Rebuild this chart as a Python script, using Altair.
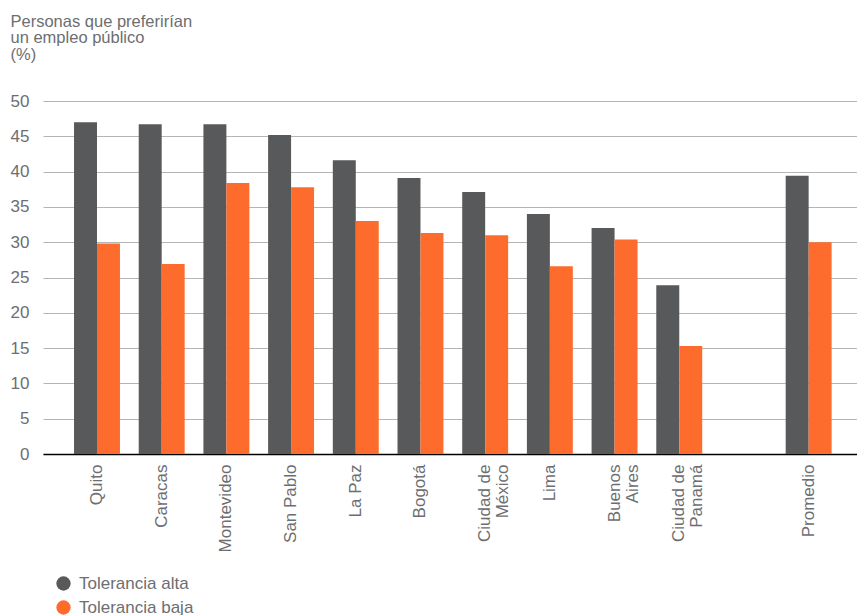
import altair as alt
import pandas as pd

cities = ["Quito", "Caracas", "Montevideo", "San Pablo", "La Paz", "Bogotá",
          "Ciudad de México", "Lima", "Buenos Aires", "Ciudad de Panamá", "Promedio"]
alta = [47.0, 46.7, 46.7, 45.2, 41.6, 39.1, 37.1, 34.0, 32.0, 23.9, 39.4]
baja = [29.8, 26.9, 38.4, 37.8, 33.0, 31.3, 31.0, 26.6, 30.4, 15.3, 30.0]
series = ["Tolerancia alta", "Tolerancia baja"]
colors = ["#58595b", "#fe6c2d"]
y_ticks = list(range(0, 51, 5))

rows = []
for c, a, b in zip(cities, alta, baja):
    rows.append({"ciudad": c, "serie": series[0], "valor": a})
    rows.append({"ciudad": c, "serie": series[1], "valor": b})
df = pd.DataFrame(rows)

x_domain = cities[:-1] + [" "] + cities[-1:]

FONT = "Liberation Sans"
GRAY = "#6d6e71"
FS = 17

label_expr = (
    "datum.value == 'Buenos Aires' ? ['Buenos', 'Aires'] : "
    "substring(datum.value, 0, 10) == 'Ciudad de ' ? ['Ciudad de', substring(datum.value, 10)] : "
    "datum.value"
)

chart = alt.Chart(df).mark_bar().encode(
    x=alt.X("ciudad:N", sort=x_domain,
            scale=alt.Scale(domain=x_domain, paddingInner=0.29, paddingOuter=0.436, align=0.55),
            axis=alt.Axis(title=None, labelAngle=-90, labelExpr=label_expr,
                          labelFont=FONT, labelFontSize=FS, labelColor=GRAY,
                          labelPadding=10, ticks=False, domainColor="#000000",
                          domainWidth=1.5, labelLineHeight=18)),
    xOffset=alt.XOffset("serie:N", sort=series),
    y=alt.Y("valor:Q", scale=alt.Scale(domain=[0, 50], nice=False),
            axis=alt.Axis(values=y_ticks, title=["Personas que preferirían", "un empleo público", "(%)"],
                          titleAngle=0, titleX=-33, titleY=-88, titleAlign="left",
                          titleBaseline="top", titleFont=FONT, titleFontSize=16.5,
                          titleFontWeight="normal", titleColor=GRAY, titleLineHeight=16.5,
                          labelFont=FONT, labelFontSize=FS, labelColor=GRAY,
                          labelPadding=14, ticks=False, domain=False,
                          gridColor="#b5b5b5", gridWidth=1.2)),
    color=alt.Color("serie:N", sort=series,
                    scale=alt.Scale(domain=series, range=colors),
                    legend=alt.Legend(title=None, orient="none", legendX=12, legendY=474,
                                      symbolType="circle", symbolSize=205,
                                      labelFont=FONT, labelFontSize=FS, labelColor=GRAY,
                                      rowPadding=6, padding=0, labelOffset=7,
                                      symbolStrokeWidth=0)),
).properties(
    width=814, height=353,
    padding={"left": 2, "top": 5, "right": 0, "bottom": 0},
).configure_view(stroke=None)

chart.save("out.html", embed_options={"renderer": "svg", "actions": False})
